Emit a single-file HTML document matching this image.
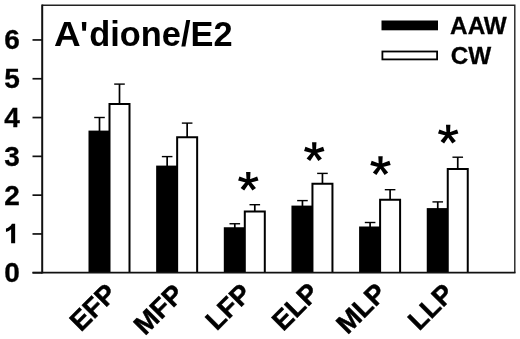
<!DOCTYPE html>
<html><head><meta charset="utf-8"><title>chart</title>
<style>
html,body{margin:0;padding:0;background:#fff;}
body{width:520px;height:339px;overflow:hidden;font-family:"Liberation Sans",sans-serif;}
svg{display:block;filter:grayscale(1);}
text{font-family:"Liberation Sans",sans-serif;font-weight:bold;fill:#000;}
</style></head><body>
<svg width="520" height="339" viewBox="0 0 520 339">
<rect width="520" height="339" fill="#fff"/>
<path d="M42.2 5.2 H514.8 V272.8" fill="none" stroke="#222" stroke-width="1.4"/>
<path d="M42.2 4.5 V273.5" fill="none" stroke="#111" stroke-width="2"/>
<line x1="32.5" x2="42" y1="272.75" y2="272.75" stroke="#111" stroke-width="1.7"/>
<text x="12.1" y="282.25" font-size="28" stroke="#000" stroke-width="0.3" text-anchor="middle">0</text>
<line x1="32.5" x2="42" y1="233.95" y2="233.95" stroke="#111" stroke-width="1.7"/>
<path transform="translate(3.65 243.30) scale(0.014263 -0.013330)" d="M806 0H525V1059Q371 915 162 846V1101Q272 1137 401 1237.5Q530 1338 578 1472H806Z" fill="#000"/>
<line x1="32.5" x2="42" y1="195.15" y2="195.15" stroke="#111" stroke-width="1.7"/>
<text x="12.1" y="204.65" font-size="28" stroke="#000" stroke-width="0.3" text-anchor="middle">2</text>
<line x1="32.5" x2="42" y1="156.35" y2="156.35" stroke="#111" stroke-width="1.7"/>
<text x="12.1" y="165.85" font-size="28" stroke="#000" stroke-width="0.3" text-anchor="middle">3</text>
<line x1="32.5" x2="42" y1="117.55" y2="117.55" stroke="#111" stroke-width="1.7"/>
<text x="12.1" y="127.05" font-size="28" stroke="#000" stroke-width="0.3" text-anchor="middle">4</text>
<line x1="32.5" x2="42" y1="78.75" y2="78.75" stroke="#111" stroke-width="1.7"/>
<text x="12.1" y="88.25" font-size="28" stroke="#000" stroke-width="0.3" text-anchor="middle">5</text>
<line x1="32.5" x2="42" y1="39.95" y2="39.95" stroke="#111" stroke-width="1.7"/>
<text x="12.1" y="49.45" font-size="28" stroke="#000" stroke-width="0.3" text-anchor="middle">6</text>
<rect x="88.50" y="130.60" width="21" height="142.15" fill="#000"/>
<path d="M94.20 117.50 H104.80" stroke="#000" stroke-width="1.4" fill="none"/><path d="M99.50 117.50 V131.60" stroke="#000" stroke-width="1.7" fill="none"/>
<path d="M109.50 272.75 V104.10 H129.50 V272.75" fill="#fff" stroke="#000" stroke-width="2" stroke-linejoin="miter"/>
<path d="M114.20 84.10 H124.80" stroke="#000" stroke-width="1.4" fill="none"/><path d="M119.50 84.10 V104.10" stroke="#000" stroke-width="1.7" fill="none"/>
<text transform="translate(118.40 295.10) rotate(-45)" font-size="27.2" stroke="#000" stroke-width="0.45" text-anchor="end" x="0" y="0">EFP</text>
<rect x="156.15" y="165.60" width="21" height="107.15" fill="#000"/>
<path d="M161.85 156.60 H172.45" stroke="#000" stroke-width="1.4" fill="none"/><path d="M167.15 156.60 V166.60" stroke="#000" stroke-width="1.7" fill="none"/>
<path d="M177.15 272.75 V137.25 H197.15 V272.75" fill="#fff" stroke="#000" stroke-width="2" stroke-linejoin="miter"/>
<path d="M181.85 123.10 H192.45" stroke="#000" stroke-width="1.4" fill="none"/><path d="M187.15 123.10 V137.25" stroke="#000" stroke-width="1.7" fill="none"/>
<text transform="translate(185.56 295.79) rotate(-45)" font-size="27.2" stroke="#000" stroke-width="0.45" text-anchor="end" x="0" y="0">MFP</text>
<rect x="223.80" y="227.25" width="21" height="45.50" fill="#000"/>
<path d="M229.50 223.75 H240.10" stroke="#000" stroke-width="1.4" fill="none"/><path d="M234.80 223.75 V228.25" stroke="#000" stroke-width="1.7" fill="none"/>
<path d="M244.80 272.75 V211.60 H264.80 V272.75" fill="#fff" stroke="#000" stroke-width="2" stroke-linejoin="miter"/>
<path d="M249.50 204.70 H260.10" stroke="#000" stroke-width="1.4" fill="none"/><path d="M254.80 204.70 V211.60" stroke="#000" stroke-width="1.7" fill="none"/>
<text transform="translate(253.13 295.17) rotate(-45)" font-size="27.2" stroke="#000" stroke-width="0.45" text-anchor="end" x="0" y="0">LFP</text>
<path d="M246.60 181.55 L246.10 171.90 L250.50 171.90 L250.00 181.55Z M247.77 179.99 L257.13 176.55 L258.49 180.59 L248.83 183.11Z M249.68 180.59 L255.96 188.11 L252.40 190.60 L246.92 182.51Z M249.68 182.51 L244.20 190.60 L240.64 188.11 L246.92 180.59Z M247.77 183.11 L238.11 180.59 L239.47 176.55 L248.83 179.99Z " fill="#000"/>
<rect x="291.45" y="205.60" width="21" height="67.15" fill="#000"/>
<path d="M297.15 200.60 H307.75" stroke="#000" stroke-width="1.4" fill="none"/><path d="M302.45 200.60 V206.60" stroke="#000" stroke-width="1.7" fill="none"/>
<path d="M312.45 272.75 V183.75 H332.45 V272.75" fill="#fff" stroke="#000" stroke-width="2" stroke-linejoin="miter"/>
<path d="M317.15 173.40 H327.75" stroke="#000" stroke-width="1.4" fill="none"/><path d="M322.45 173.40 V183.75" stroke="#000" stroke-width="1.7" fill="none"/>
<text transform="translate(320.65 294.50) rotate(-45)" font-size="27.2" stroke="#000" stroke-width="0.45" text-anchor="end" x="0" y="0">ELP</text>
<path d="M312.55 151.85 L312.05 142.20 L316.45 142.20 L315.95 151.85Z M313.72 150.29 L323.08 146.85 L324.44 150.89 L314.78 153.41Z M315.63 150.89 L321.91 158.41 L318.35 160.90 L312.87 152.81Z M315.63 152.81 L310.15 160.90 L306.59 158.41 L312.87 150.89Z M313.72 153.41 L304.06 150.89 L305.42 146.85 L314.78 150.29Z " fill="#000"/>
<rect x="359.10" y="226.50" width="21" height="46.25" fill="#000"/>
<path d="M364.80 222.50 H375.40" stroke="#000" stroke-width="1.4" fill="none"/><path d="M370.10 222.50 V227.50" stroke="#000" stroke-width="1.7" fill="none"/>
<path d="M380.10 272.75 V199.75 H400.10 V272.75" fill="#fff" stroke="#000" stroke-width="2" stroke-linejoin="miter"/>
<path d="M384.80 189.70 H395.40" stroke="#000" stroke-width="1.4" fill="none"/><path d="M390.10 189.70 V199.75" stroke="#000" stroke-width="1.7" fill="none"/>
<text transform="translate(388.10 294.59) rotate(-45)" font-size="27.2" stroke="#000" stroke-width="0.45" text-anchor="end" x="0" y="0">MLP</text>
<path d="M378.80 165.85 L378.30 156.20 L382.70 156.20 L382.20 165.85Z M379.97 164.29 L389.33 160.85 L390.69 164.89 L381.03 167.41Z M381.88 164.89 L388.16 172.41 L384.60 174.90 L379.12 166.81Z M381.88 166.81 L376.40 174.90 L372.84 172.41 L379.12 164.89Z M379.97 167.41 L370.31 164.89 L371.67 160.85 L381.03 164.29Z " fill="#000"/>
<rect x="426.75" y="208.10" width="21" height="64.65" fill="#000"/>
<path d="M432.45 201.90 H443.05" stroke="#000" stroke-width="1.4" fill="none"/><path d="M437.75 201.90 V209.10" stroke="#000" stroke-width="1.7" fill="none"/>
<path d="M447.75 272.75 V169.10 H467.75 V272.75" fill="#fff" stroke="#000" stroke-width="2" stroke-linejoin="miter"/>
<path d="M452.45 157.20 H463.05" stroke="#000" stroke-width="1.4" fill="none"/><path d="M457.75 157.20 V169.10" stroke="#000" stroke-width="1.7" fill="none"/>
<text transform="translate(455.58 295.27) rotate(-45)" font-size="27.2" stroke="#000" stroke-width="0.45" text-anchor="end" x="0" y="0">LLP</text>
<path d="M446.50 134.45 L446.00 124.80 L450.40 124.80 L449.90 134.45Z M447.67 132.89 L457.03 129.45 L458.39 133.49 L448.73 136.01Z M449.58 133.49 L455.86 141.01 L452.30 143.50 L446.82 135.41Z M449.58 135.41 L444.10 143.50 L440.54 141.01 L446.82 133.49Z M447.67 136.01 L438.01 133.49 L439.37 129.45 L448.73 132.89Z " fill="#000"/>
<line x1="32.5" x2="515.5" y1="272.7" y2="272.7" stroke="#111" stroke-width="1.7"/>
<text transform="translate(54.1 45.7) scale(1.075 1.02)" font-size="34.4">A</text>
<text transform="translate(0 45.7) scale(1 1.012)" x="79.95 89.3" y="0" font-size="34.4">'dione/E2</text>
<rect x="381.5" y="20.5" width="56.5" height="9.8" fill="#000"/>
<rect x="382.4" y="51.5" width="54.7" height="7.9" fill="#fff" stroke="#000" stroke-width="1.8"/>
<text x="450.1" y="34.2" font-size="24.3" stroke="#000" stroke-width="0.3">AAW</text>
<text x="450.7" y="64.0" font-size="24.3" stroke="#000" stroke-width="0.3">CW</text>
</svg></body></html>
